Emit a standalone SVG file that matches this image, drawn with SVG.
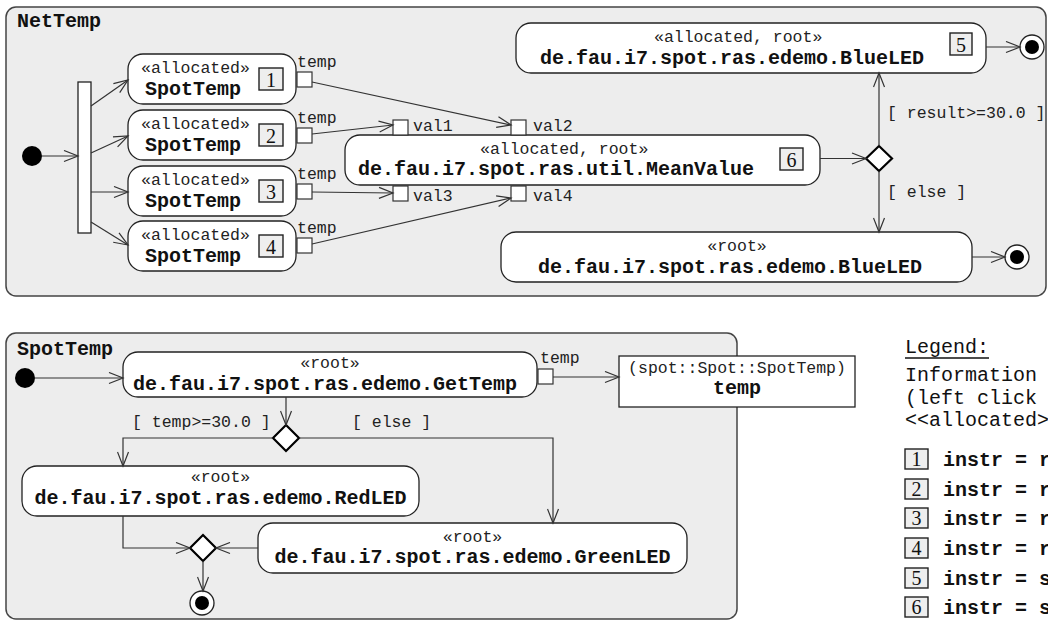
<svg xmlns="http://www.w3.org/2000/svg" width="1048" height="622" viewBox="0 0 1048 622">
  <defs>
    <marker id="arrow" markerUnits="userSpaceOnUse" markerWidth="17" markerHeight="13" refX="15" refY="6.5" orient="auto">
      <path d="M1,1 L15,6.5 L1,12" fill="none" stroke="#333" stroke-width="1.2"/>
    </marker>
    <style>
      .frame{fill:#ededed;stroke:#444;stroke-width:1.5}
      .act{fill:#fff;stroke:#222;stroke-width:1.3}
      .obj{fill:#fff;stroke:#222;stroke-width:1.3}
      .port{fill:#fff;stroke:#333;stroke-width:1.2}
      .num{fill:#eee;stroke:#222;stroke-width:1.4}
      .bar{fill:#fff;stroke:#222;stroke-width:1.3}
      .dec{fill:#fff;stroke:#000;stroke-width:2.2}
      .init{fill:#000}
      .fin-o{fill:#fff;stroke:#222;stroke-width:1.3}
      .fin-i{fill:#000}
      .edge{fill:none;stroke:#333;stroke-width:1.2;marker-end:url(#arrow)}
      .title{font-family:"Liberation Mono",monospace;font-weight:bold;font-size:20px;fill:#111}
      .st{font-family:"Liberation Mono",monospace;font-size:16.5px;fill:#222}
      .bold{font-family:"Liberation Mono",monospace;font-weight:bold;font-size:20px;fill:#111}
      .digit{font-family:"Liberation Serif",serif;font-size:20px;fill:#111;text-anchor:middle}
      .mid{text-anchor:middle}
      .leg{font-family:"Liberation Mono",monospace;font-size:20px;fill:#111}
      .legb{font-family:"Liberation Mono",monospace;font-size:20px;font-weight:bold;fill:#111}
    </style>
  </defs>

  <!-- ===== NetTemp activity ===== -->
  <g id="NetTemp">
    <rect class="frame" x="6" y="7" width="1040" height="289" rx="10"/>
    <text class="title" x="17" y="27">NetTemp</text>
  </g>

  <g id="net-initial"><circle class="init" cx="32" cy="156" r="10"/></g>
  <g id="net-fork"><rect class="bar" x="78" y="82" width="13" height="151"/></g>

  <g id="spottemp-1">
    <rect class="act" x="128" y="54" width="168" height="50" rx="15"/>
    <text class="st" x="141" y="73">«allocated»</text>
    <text class="bold" x="145" y="95">SpotTemp</text>
    <rect class="num" x="259" y="68" width="24" height="22"/>
    <text class="digit" x="271" y="87">1</text>
    <rect class="port" x="297" y="72" width="15" height="15"/>
    <text class="st" x="297" y="67">temp</text>
  </g>
  <g id="spottemp-2">
    <rect class="act" x="128" y="110" width="168" height="50" rx="15"/>
    <text class="st" x="141" y="129">«allocated»</text>
    <text class="bold" x="145" y="151">SpotTemp</text>
    <rect class="num" x="259" y="124" width="24" height="22"/>
    <text class="digit" x="271" y="143">2</text>
    <rect class="port" x="297" y="128" width="15" height="15"/>
    <text class="st" x="297" y="123">temp</text>
  </g>
  <g id="spottemp-3">
    <rect class="act" x="128" y="166" width="168" height="50" rx="15"/>
    <text class="st" x="141" y="185">«allocated»</text>
    <text class="bold" x="145" y="207">SpotTemp</text>
    <rect class="num" x="259" y="180" width="24" height="22"/>
    <text class="digit" x="271" y="199">3</text>
    <rect class="port" x="297" y="184" width="15" height="15"/>
    <text class="st" x="297" y="179">temp</text>
  </g>
  <g id="spottemp-4">
    <rect class="act" x="128" y="221" width="168" height="50" rx="15"/>
    <text class="st" x="141" y="240">«allocated»</text>
    <text class="bold" x="145" y="262">SpotTemp</text>
    <rect class="num" x="259" y="235" width="24" height="22"/>
    <text class="digit" x="271" y="254">4</text>
    <rect class="port" x="297" y="238" width="15" height="15"/>
    <text class="st" x="297" y="233">temp</text>
  </g>

  <g id="mean-value">
    <rect class="act" x="345" y="135" width="475" height="50" rx="15"/>
    <text class="st" x="480" y="154">«allocated, root»</text>
    <text class="bold" x="358" y="175">de.fau.i7.spot.ras.util.MeanValue</text>
    <rect class="num" x="780" y="148" width="23" height="22"/>
    <text class="digit" x="791.5" y="167">6</text>
    <rect class="port" x="393" y="120" width="15" height="15"/>
    <text class="st" x="413" y="131">val1</text>
    <rect class="port" x="511" y="120" width="15" height="15"/>
    <text class="st" x="533" y="131">val2</text>
    <rect class="port" x="393" y="186" width="15" height="15"/>
    <text class="st" x="413" y="201">val3</text>
    <rect class="port" x="511" y="186" width="15" height="15"/>
    <text class="st" x="533" y="201">val4</text>
  </g>

  <g id="net-decision"><path class="dec" d="M879,146 L892,158.5 L879,171 L866,158.5 Z"/></g>

  <g id="blueled-allocated">
    <rect class="act" x="516" y="23" width="470" height="50" rx="15"/>
    <text class="st" x="654" y="42">«allocated, root»</text>
    <text class="bold" x="540" y="64">de.fau.i7.spot.ras.edemo.BlueLED</text>
    <rect class="num" x="950" y="33" width="22" height="22"/>
    <text class="digit" x="961" y="52">5</text>
  </g>
  <g id="blueled-root">
    <rect class="act" x="501" y="232" width="471" height="50" rx="15"/>
    <text class="st mid" x="737" y="251">«root»</text>
    <text class="bold mid" x="730" y="273">de.fau.i7.spot.ras.edemo.BlueLED</text>
  </g>

  <g id="net-final-1"><circle class="fin-o" cx="1032" cy="47" r="12"/><circle class="fin-i" cx="1032" cy="47" r="7"/></g>
  <g id="net-final-2"><circle class="fin-o" cx="1017" cy="257" r="12"/><circle class="fin-i" cx="1017" cy="257" r="7"/></g>

  <!-- ===== SpotTemp activity ===== -->
  <g id="SpotTemp">
    <rect class="frame" x="6" y="333" width="731" height="286" rx="10"/>
    <text class="title" x="17" y="355">SpotTemp</text>
  </g>

  <g id="spot-initial"><circle class="init" cx="25" cy="378" r="10"/></g>

  <g id="get-temp">
    <rect class="act" x="123" y="352" width="414" height="45" rx="15"/>
    <text class="st mid" x="330" y="368">«root»</text>
    <text class="bold" x="133" y="390">de.fau.i7.spot.ras.edemo.GetTemp</text>
    <rect class="port" x="538" y="369" width="15" height="15"/>
    <text class="st" x="540" y="363">temp</text>
  </g>

  <g id="temp-object">
    <rect class="obj" x="619" y="356" width="236" height="51"/>
    <text class="st mid" x="737" y="373">(spot::Spot::SpotTemp)</text>
    <text class="bold mid" x="737" y="394">temp</text>
  </g>

  <g id="spot-decision"><path class="dec" d="M286,425 L299,438 L286,451 L273,438 Z"/></g>

  <g id="red-led">
    <rect class="act" x="22" y="466" width="397" height="50" rx="15"/>
    <text class="st mid" x="220.5" y="482">«root»</text>
    <text class="bold mid" x="220.5" y="504">de.fau.i7.spot.ras.edemo.RedLED</text>
  </g>

  <g id="green-led">
    <rect class="act" x="258" y="523" width="429" height="50" rx="15"/>
    <text class="st mid" x="472.5" y="542">«root»</text>
    <text class="bold mid" x="472.5" y="563">de.fau.i7.spot.ras.edemo.GreenLED</text>
  </g>

  <g id="spot-merge"><path class="dec" d="M203,535 L216,548 L203,561 L190,548 Z"/></g>

  <g id="spot-final"><circle class="fin-o" cx="202" cy="603" r="12"/><circle class="fin-i" cx="202" cy="603" r="7"/></g>

  <!-- ===== connectors ===== -->
  <g id="connectors">
    <path class="edge" d="M42,156 L78,156"/>
    <path class="edge" d="M91,106 L128,80"/>
    <path class="edge" d="M91,153 L128,136"/>
    <path class="edge" d="M91,192 L128,192"/>
    <path class="edge" d="M91,222 L128,245"/>
    <path class="edge" d="M312,82 L511,125"/>
    <path class="edge" d="M312,134 L393,125"/>
    <path class="edge" d="M312,192 L393,193"/>
    <path class="edge" d="M312,244 L511,198"/>
    <path class="edge" d="M820,158.5 L866,158.5"/>
    <path class="edge" d="M879,146 L879,73"/>
    <path class="edge" d="M879,171 L879,232"/>
    <path class="edge" d="M986,47 L1020,47"/>
    <path class="edge" d="M972,257 L1005,257"/>
    <text class="st" x="887" y="118">[ result&gt;=30.0 ]</text>
    <text class="st" x="887" y="197">[ else ]</text>

    <path class="edge" d="M35,378 L123,378"/>
    <path class="edge" d="M553,377 L619,377"/>
    <path class="edge" d="M286,397 L286,425"/>
    <path class="edge" d="M273,438 L123,438 L123,466"/>
    <path class="edge" d="M299,438 L553,438 L553,523"/>
    <path class="edge" d="M123,516 L123,548 L190,548"/>
    <path class="edge" d="M258,548 L216,548"/>
    <path class="edge" d="M203,561 L203,591"/>
    <text class="st" x="132" y="427">[ temp&gt;=30.0 ]</text>
    <text class="st" x="352" y="427">[ else ]</text>
  </g>

  <!-- ===== legend ===== -->
  <g id="legend">
    <text class="leg" x="905" y="353">Legend:</text>
    <line x1="905" y1="358" x2="989" y2="358" stroke="#111" stroke-width="1.3"/>
    <text class="leg" x="905" y="381">Information</text>
    <text class="leg" x="905" y="404">(left click</text>
    <text class="leg" x="905" y="426">&lt;&lt;allocated&gt;</text>
    <rect class="num" x="905" y="449" width="23" height="20"/>
    <text class="digit" x="916.5" y="466">1</text>
    <text class="legb" x="943" y="466">instr = r</text>
    <rect class="num" x="905" y="479" width="23" height="20"/>
    <text class="digit" x="916.5" y="496">2</text>
    <text class="legb" x="943" y="496">instr = r</text>
    <rect class="num" x="905" y="508" width="23" height="20"/>
    <text class="digit" x="916.5" y="525">3</text>
    <text class="legb" x="943" y="525">instr = r</text>
    <rect class="num" x="905" y="538" width="23" height="20"/>
    <text class="digit" x="916.5" y="555">4</text>
    <text class="legb" x="943" y="555">instr = r</text>
    <rect class="num" x="905" y="568" width="23" height="20"/>
    <text class="digit" x="916.5" y="585">5</text>
    <text class="legb" x="943" y="585">instr = s</text>
    <rect class="num" x="905" y="597" width="23" height="20"/>
    <text class="digit" x="916.5" y="614">6</text>
    <text class="legb" x="943" y="614">instr = s</text>
  </g>
</svg>
